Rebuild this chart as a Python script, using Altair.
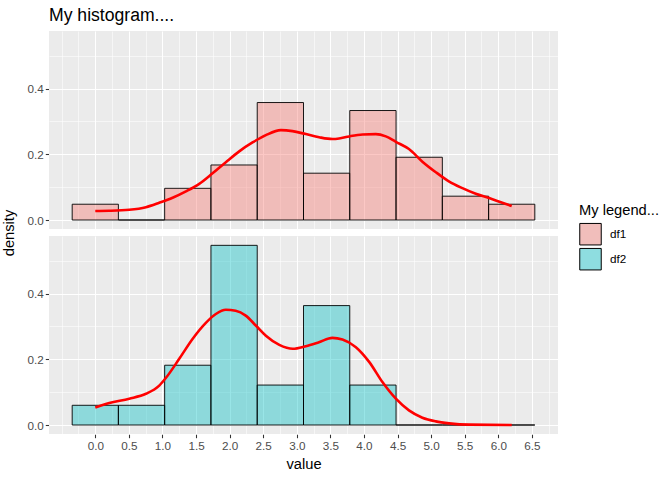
import altair as alt
import pandas as pd

series = ["df1", "df2"]
bin_left = [-0.344, 0.344, 1.033, 1.722, 2.411, 3.100, 3.789, 4.478, 5.167, 5.856]
bin_right = [0.344, 1.033, 1.722, 2.411, 3.100, 3.789, 4.478, 5.167, 5.856, 6.544]
df1_density = [0.0480, 0.0, 0.0965, 0.1675, 0.3576, 0.1425, 0.3333, 0.1910, 0.0725, 0.0480]
df2_density = [0.0600, 0.0600, 0.1820, 0.5470, 0.1216, 0.3635, 0.1216, 0.0, 0.0, 0.0]

df1_curve_x = [0.0, 0.208, 0.506, 0.754, 0.952, 1.151, 1.35, 1.548, 1.746, 1.944, 2.143, 2.341,
               2.54, 2.763, 2.936, 3.135, 3.333, 3.532, 3.63, 3.78, 3.98, 4.177, 4.326, 4.475,
               4.67, 4.87, 5.07, 5.27, 5.466, 5.665, 5.863, 6.06, 6.2]
df1_curve_y = [0.0276, 0.0282, 0.0312, 0.039, 0.0524, 0.0676, 0.087, 0.110, 0.142, 0.176, 0.209, 0.236,
               0.2585, 0.2736, 0.2706, 0.2615, 0.252, 0.2464, 0.248, 0.2545, 0.2605, 0.2615, 0.2545, 0.238,
               0.216, 0.1776, 0.1455, 0.117, 0.097, 0.0797, 0.0667, 0.0524, 0.0424]
df2_curve_x = [0.0, 0.208, 0.506, 0.754, 0.952, 1.05, 1.25, 1.448, 1.646, 1.795, 1.944, 2.09, 2.24,
               2.39, 2.54, 2.74, 2.94, 3.135, 3.33, 3.53, 3.68, 3.88, 4.08, 4.275, 4.475, 4.67,
               4.87, 5.07, 5.27, 5.565, 6.2]
df2_curve_y = [0.0535, 0.0668, 0.080, 0.095, 0.120, 0.143, 0.2015, 0.262, 0.311, 0.338, 0.351, 0.348, 0.333,
               0.303, 0.272, 0.244, 0.232, 0.240, 0.252, 0.2653, 0.260, 0.237, 0.1915, 0.1307, 0.080, 0.0444,
               0.0222, 0.011, 0.005, 0.001, 0.0]

x_grid = [v / 4 for v in range(-2, 28)]
y_grid = [0.0, 0.1, 0.2, 0.3, 0.4, 0.5]

rows = []
for s, dens in zip(series, [df1_density, df2_density]):
    for l, r, d in zip(bin_left, bin_right, dens):
        rows.append({"series": s, "group": s, "kind": "bar", "left": l, "right": r, "density": d})
for s, xs, ys in zip(series, [df1_curve_x, df2_curve_x], [df1_curve_y, df2_curve_y]):
    for xv, yv in zip(xs, ys):
        rows.append({"series": s, "group": s, "kind": "curve", "cx": xv, "cy": yv})
data = pd.DataFrame(rows)

FONT = "Liberation Sans"
major_test = "abs(datum.value*2 - round(datum.value*2)) < 0.001 && datum.value >= -0.001 && datum.value <= 6.501"
y_major_test = "abs(datum.value*5 - round(datum.value*5)) < 0.001"

xscale = alt.Scale(domain=[-0.689, 6.889], nice=False, zero=False)
yscale = alt.Scale(domain=[-0.0274, 0.5754], nice=False, zero=False)

x_axis = alt.Axis(
    values=x_grid, title="value", domain=False, labelOverlap=False,
    labelExpr=f"({major_test}) ? format(datum.value, '.1f') : ''",
    gridColor="white",
    gridWidth={"condition": {"test": major_test, "value": 1.1}, "value": 0.55},
    tickColor={"condition": {"test": major_test, "value": "#333333"}, "value": "transparent"},
    tickSize=3.7, tickWidth=1.07, labelPadding=3,
    labelFontSize=11.7, labelColor="#4D4D4D", labelFont=FONT,
    titleFontSize=14.7, titleFont=FONT, titleFontWeight="normal", titleColor="black", titlePadding=4,
)
y_axis = alt.Axis(
    values=y_grid, title=None, domain=False, labelOverlap=False,
    labelExpr=f"({y_major_test}) ? format(datum.value, '.1f') : ''",
    gridColor="white",
    gridWidth={"condition": {"test": y_major_test, "value": 1.1}, "value": 0.55},
    tickColor={"condition": {"test": y_major_test, "value": "#333333"}, "value": "transparent"},
    tickSize=3.7, tickWidth=1.07, labelPadding=2,
    labelFontSize=11.7, labelColor="#4D4D4D", labelFont=FONT,
)

bars = alt.Chart().transform_filter(alt.datum.kind == "bar").mark_bar(
    fillOpacity=0.4, stroke="black", strokeWidth=0.9
).encode(
    x=alt.X("left:Q", scale=xscale, axis=x_axis),
    x2="right:Q",
    y=alt.Y("density:Q", scale=yscale, axis=y_axis),
    y2=alt.datum(0),
    fill=alt.Fill("series:N", scale=alt.Scale(domain=series, range=["#F8766D", "#00BFC4"]),
                  legend=None),
)

legend_layer = alt.Chart().transform_filter(alt.datum.kind == "bar").mark_square(size=0).encode(
    x=alt.X("left:Q", scale=xscale, axis=x_axis),
    y=alt.Y("density:Q", scale=yscale, axis=y_axis),
    color=alt.Color("group:N", scale=alt.Scale(range=["#F1BEBB", "#8EDDE0"]),
                    legend=alt.Legend(title="My legend...", symbolType="square", symbolSize=462,
                                      symbolOpacity=1, symbolStrokeColor="black", symbolStrokeWidth=1,
                                      titleFont=FONT, titleFontSize=14.7, titleFontWeight="normal",
                                      titleColor="black", labelFont=FONT, labelFontSize=11.7,
                                      labelColor="black", rowPadding=-4, titlePadding=5, labelOffset=8,
                                      orient="none", legendX=530, legendY=172)),
)

curve = alt.Chart().transform_filter(alt.datum.kind == "curve").mark_line(
    color="red", strokeWidth=2.6, interpolate="monotone"
).encode(
    x=alt.X("cx:Q", scale=xscale, axis=x_axis),
    y=alt.Y("cy:Q", scale=yscale, axis=y_axis),
)

chart = alt.layer(bars, legend_layer, curve, data=data).properties(width=509, height=198).facet(
    row=alt.Row("series:N", header=alt.Header(labels=False, title="density", titleOrient="left",
                                               titleFont=FONT, titleFontSize=14.7,
                                               titleFontWeight="normal", titleColor="black",
                                               titlePadding=0)),
    spacing=7,
).properties(
    title=alt.TitleParams("My histogram....", anchor="start", frame="group", font=FONT,
                          fontSize=17.6, fontWeight="normal", color="black", offset=6),
    padding={"left": 2, "top": 7, "right": 5, "bottom": 5},
).configure(background="white").configure_view(fill="#EBEBEB", stroke=None)

chart.save("out.html", embed_options={"renderer": "svg", "actions": False})
